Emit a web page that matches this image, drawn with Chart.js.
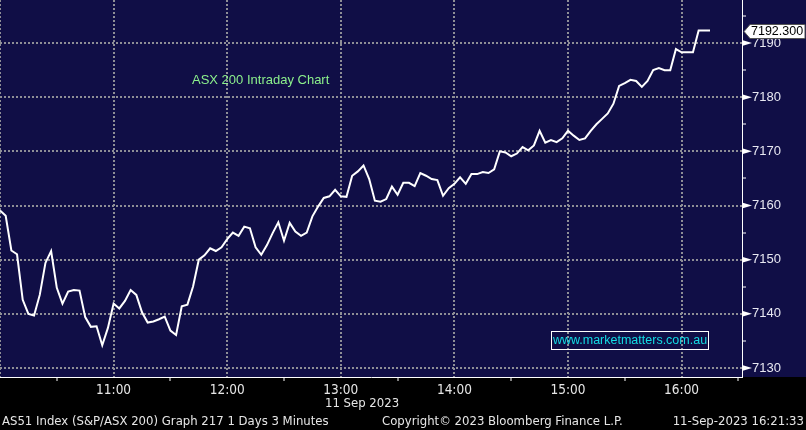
<!DOCTYPE html>
<html>
<head>
<meta charset="utf-8">
<script src="https://cdn.jsdelivr.net/npm/chart.js@4.4.1/dist/chart.umd.min.js"></script>
<style>
  html, body { margin: 0; padding: 0; background: #000; }
  .wrap { position: relative; width: 806px; height: 430px; overflow: hidden; }
  #asxChart { position: absolute; left: 0; top: 0; }
  .txt { position: absolute; white-space: nowrap; line-height: 1; }
  .narrow { font-family: "Liberation Sans Narrow", "DejaVu Sans Condensed", "Arial Narrow", sans-serif; font-size: 13px; color: #e6e6e6; }
  .chart-title { left: 192px; top: 73px; font: 13px "Liberation Sans", Arial, sans-serif; color: #8cf08c; line-height: 1; }
  .watermark { left: 551px; top: 331px; width: 156px; height: 17px; border: 1px solid #fff;
    font: 12.5px "Liberation Sans", Arial, sans-serif; color: #14dce4; text-align: center; line-height: 17px; }
  .date-label { left: 325px; top: 396px; }
  .foot { top: 414px; }
  .foot-left { left: 2px; }
  .foot-mid { left: 382px; }
  .foot-right { right: 2px; }
</style>
</head>
<body>
<div class="wrap">
  <canvas id="asxChart" width="806" height="430"></canvas>
  <div class="txt chart-title">ASX 200 Intraday Chart</div>
  <div class="txt watermark">www.marketmatters.com.au</div>
  <div class="txt narrow date-label">11 Sep 2023</div>
  <div class="txt narrow foot foot-left">AS51 Index (S&amp;P/ASX 200) Graph 217 1 Days 3 Minutes</div>
  <div class="txt narrow foot foot-mid">Copyright© 2023 Bloomberg Finance L.P.</div>
  <div class="txt narrow foot foot-right">11-Sep-2023 16:21:33</div>
</div>
<script>
// 3 minute bars from 10:00, minutes since open on x
const stepMinutes = 3;
const asxValues = [
  7159.1, 7158.1, 7151.7, 7151.0, 7142.6, 7140.0, 7139.7, 7143.5, 7149.4, 7151.6,
  7144.8, 7141.9, 7144.1, 7144.4, 7144.3, 7139.4, 7137.6, 7137.7, 7134.2, 7137.4,
  7141.9, 7141.0, 7142.4, 7144.4, 7143.5, 7140.3, 7138.4, 7138.6, 7139.0, 7139.5,
  7136.9, 7136.1, 7141.4, 7141.7, 7145.1, 7150.0, 7150.8, 7152.1, 7151.6, 7152.3,
  7153.8, 7155.0, 7154.4, 7156.1, 7155.8, 7152.3, 7150.9, 7152.7, 7154.9, 7156.9,
  7153.5, 7156.8, 7155.2, 7154.4, 7155.0, 7158.0, 7159.8, 7161.4, 7161.7, 7162.9,
  7161.7, 7161.6, 7165.5, 7166.3, 7167.4, 7164.9, 7160.9, 7160.7, 7161.2, 7163.5,
  7162.0, 7164.2, 7164.2, 7163.6, 7166.0, 7165.5, 7164.9, 7164.7, 7161.8, 7163.2,
  7164.0, 7165.2, 7164.0, 7165.8, 7165.8, 7166.2, 7166.0, 7166.7, 7170.0, 7169.8,
  7169.1, 7169.6, 7170.8, 7170.2, 7171.1, 7173.8, 7171.6, 7172.1, 7171.7, 7172.4,
  7173.8, 7172.9, 7172.1, 7172.4, 7173.8, 7175.0, 7176.0, 7177.0, 7178.8, 7182.1,
  7182.6, 7183.2, 7183.0, 7181.9, 7183.0, 7185.0, 7185.4, 7185.0, 7185.0, 7188.9,
  7188.3, 7188.3, 7188.3, 7192.3, 7192.3, 7192.3
];

const xTickMinutes = [0, 30, 60, 90, 120, 150, 180, 210, 240, 270, 300, 330, 360, 390];
const xTickLabels = ["", "", "11:00", "", "12:00", "", "13:00", "", "14:00", "", "15:00", "", "16:00", ""];
const yTickValues = [7130, 7135, 7140, 7145, 7150, 7155, 7160, 7165, 7170, 7175, 7180, 7185, 7190, 7195];
const yTickLabels = ["7130", "", "7140", "", "7150", "", "7160", "", "7170", "", "7180", "", "7190", ""];

const NAVY = "#100e46";
const GRID = "#8e8e96";

const points = asxValues.map((v, i) => ({ x: i * stepMinutes, y: v }));

const bloombergFrame = {
  id: "bloombergFrame",
  beforeDraw(chart) {
    const { ctx, chartArea } = chart;
    ctx.save();
    ctx.fillStyle = "#000";
    ctx.fillRect(0, 0, chart.width, chart.height);
    ctx.fillStyle = NAVY;
    ctx.fillRect(0, 0, chart.width, chartArea.bottom);
    ctx.restore();
  },
  afterDraw(chart) {
    const { ctx, chartArea } = chart;
    const y = chart.scales.y;
    ctx.save();
    ctx.fillStyle = "#fff";
    yTickValues.forEach((v, i) => {
      if (!yTickLabels[i]) return;
      const py = y.getPixelForValue(v);
      ctx.beginPath();
      ctx.moveTo(chartArea.right, py - 3);
      ctx.lineTo(chartArea.right + 10, py);
      ctx.lineTo(chartArea.right, py + 3);
      ctx.closePath();
      ctx.fill();
    });

    // last price tag
    const last = asxValues[asxValues.length - 1];
    const ty = Math.round(y.getPixelForValue(last)) + 0.5;
    const tx = chartArea.right + 2;
    ctx.beginPath();
    ctx.moveTo(tx, ty);
    ctx.lineTo(tx + 6, ty - 7);
    ctx.lineTo(chart.width - 1, ty - 7);
    ctx.lineTo(chart.width - 1, ty + 7);
    ctx.lineTo(tx + 6, ty + 7);
    ctx.closePath();
    ctx.fillStyle = "#fff";
    ctx.fill();
    ctx.strokeStyle = "#555";
    ctx.lineWidth = 1;
    ctx.stroke();
    ctx.fillStyle = "#000";
    ctx.font = '12.5px "Liberation Sans", Arial, sans-serif';
    ctx.textBaseline = "middle";
    ctx.fillText(last.toFixed(3), tx + 7, ty + 0.5);
    ctx.restore();
  }
};

new Chart(document.getElementById("asxChart"), {
  type: "line",
  data: {
    datasets: [{
      data: points,
      borderColor: "#ffffff",
      borderWidth: 2,
      pointRadius: 0,
      tension: 0,
      fill: false
    }]
  },
  options: {
    responsive: false,
    animation: false,
    devicePixelRatio: 1,
    layout: { padding: 0 },
    plugins: { legend: { display: false }, tooltip: { enabled: false } },
    scales: {
      x: {
        type: "linear",
        min: 0,
        max: 391.9,
        afterBuildTicks: (scale) => { scale.ticks = xTickMinutes.map((v) => ({ value: v })); },
        afterFit: (scale) => { scale.height = 53; scale.paddingLeft = 0; scale.paddingRight = 0; },
        ticks: {
          autoSkip: false,
          maxRotation: 0,
          padding: 1,
          color: "#e6e6e6",
          font: { family: '"Liberation Sans Narrow", "DejaVu Sans Condensed", "Arial Narrow", sans-serif', size: 13.5 },
          callback: (value, index) => xTickLabels[index]
        },
        grid: {
          lineWidth: 2,
          color: (c) => (c.tick && c.tick.value % 60 === 0 ? GRID : "transparent"),
          tickColor: (c) => (c.tick && c.tick.value % 60 !== 0 ? "#ffffff" : "transparent"),
          tickWidth: 1,
          tickLength: 4
        },
        border: { color: "#ffffff", width: 1, dash: [2, 2] }
      },
      y: {
        type: "linear",
        position: "right",
        min: 7128.34,
        max: 7197.95,
        afterBuildTicks: (scale) => { scale.ticks = yTickValues.map((v) => ({ value: v })); },
        afterFit: (scale) => { scale.width = 64; scale.paddingTop = 0; scale.paddingBottom = 0; },
        ticks: {
          autoSkip: false,
          padding: 6,
          color: "#e8e8f2",
          font: { family: '"Liberation Sans", Arial, sans-serif', size: 13 },
          callback: (value, index) => yTickLabels[index]
        },
        grid: {
          lineWidth: 2,
          color: (c) => (c.tick && c.tick.value % 10 === 0 ? GRID : "transparent"),
          tickColor: (c) => (c.tick && c.tick.value % 10 !== 0 ? "#ffffff" : "transparent"),
          tickWidth: 1,
          tickLength: 4
        },
        border: { color: "#ffffff", width: 1, dash: [2, 2] }
      }
    }
  },
  plugins: [bloombergFrame]
});
</script>
</body>
</html>
